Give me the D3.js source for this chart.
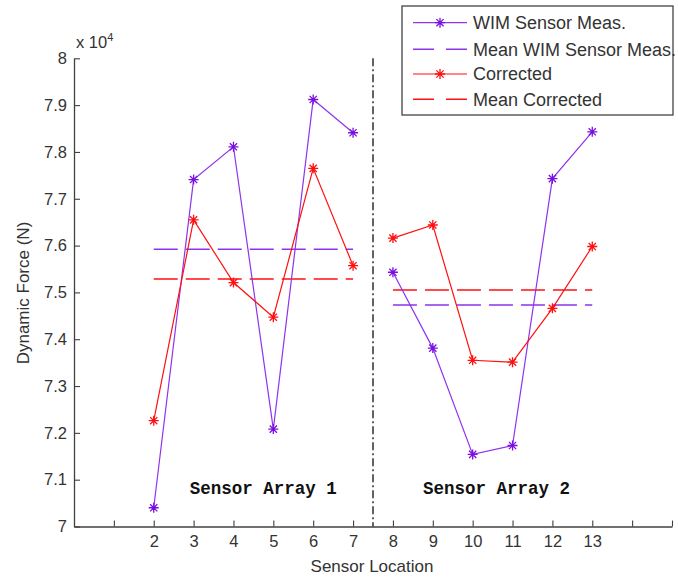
<!DOCTYPE html>
<html>
<head>
<meta charset="utf-8">
<script src="https://cdn.jsdelivr.net/npm/d3@7/dist/d3.min.js"></script>
<style>
  html, body { margin: 0; padding: 0; background: #ffffff; }
  svg { display: block; }
</style>
</head>
<body>
<script>
// ---------- data ----------
const sensorLocations = [2, 3, 4, 5, 6, 7, 8, 9, 10, 11, 12, 13];
const wimMeas   = [70400, 77410, 78110, 72080, 79120, 78410, 75430, 73810, 71540, 71730, 77430, 78430];
const corrected = [72260, 76550, 75210, 74470, 77650, 75570, 76160, 76440, 73550, 73510, 74660, 75980];
const array1Locs = [2, 3, 4, 5, 6, 7];
const array2Locs = [8, 9, 10, 11, 12, 13];
const xTicks = [1, 2, 3, 4, 5, 6, 7, 8, 9, 10, 11, 12, 13, 14, 15];
const xTickLabels = ["", "2", "3", "4", "5", "6", "7", "8", "9", "10", "11", "12", "13", "", ""];
const yTicks = [70000, 71000, 72000, 73000, 74000, 75000, 76000, 77000, 78000, 79000, 80000];
const yTickLabels = ["7", "7.1", "7.2", "7.3", "7.4", "7.5", "7.6", "7.7", "7.8", "7.9", "8"];
const legendLabels = ["WIM Sensor Meas.", "Mean WIM Sensor Meas.", "Corrected", "Mean Corrected"];
const annotations = [{text: "Sensor Array 1", x: 4.75, y: 70700}, {text: "Sensor Array 2", x: 10.6, y: 70700}];
const dividerX = 7.5;

// ---------- layout ----------
const W = 678, H = 578;
const purple = "#8f33ec", purpleMarker = "#7a10e0", red = "#ff1010";
const axisColor = "#404040", textColor = "#333333";
const font = "'Liberation Sans', Arial, sans-serif";

const x = d3.scaleLinear().domain([0, 15]).range([74, 672]);
const y = d3.scaleLinear().domain([70000, 80000]).range([526.5, 58.3]);

const svg = d3.select("body").append("svg").attr("width", W).attr("height", H);
svg.append("rect").attr("width", W).attr("height", H).attr("fill", "#ffffff");

const mean = arr => d3.mean(arr);
const idx = locs => locs.map(l => sensorLocations.indexOf(l));
function groupMean(values, locs) { return mean(idx(locs).map(i => values[i])); }

// ---------- axes ----------
const xAxis = d3.axisBottom(x).tickValues(xTicks)
  .tickFormat((d, i) => xTickLabels[i]).tickSizeInner(-6).tickSizeOuter(0).tickPadding(9);
const yAxis = d3.axisLeft(y).tickValues(yTicks)
  .tickFormat((d, i) => yTickLabels[i]).tickSizeInner(-6).tickSizeOuter(0).tickPadding(7);

const gx = svg.append("g").attr("transform", `translate(0,${y(70000)})`).call(xAxis);
const gy = svg.append("g").attr("transform", `translate(${x(0)},0)`).call(yAxis);
[gx, gy].forEach(g => {
  g.select(".domain").attr("stroke", axisColor).attr("stroke-width", 1.3);
  g.selectAll(".tick line").attr("stroke", axisColor).attr("stroke-width", 1.1);
  g.selectAll(".tick text").attr("fill", textColor).style("font-family", font).style("font-size", "16.5px");
});

// axis labels
svg.append("text").attr("x", 372).attr("y", 572).attr("text-anchor", "middle")
  .attr("fill", textColor).style("font-family", font).style("font-size", "17px").text("Sensor Location");
svg.append("text").attr("transform", "translate(29,293) rotate(-90)").attr("text-anchor", "middle")
  .attr("fill", textColor).style("font-family", font).style("font-size", "17px").text("Dynamic Force (N)");
const exp = svg.append("text").attr("x", 76).attr("y", 48).attr("fill", textColor)
  .style("font-family", font).style("font-size", "16.5px");
exp.append("tspan").text("x 10");
exp.append("tspan").attr("dy", -7).style("font-size", "11px").text("4");

// divider (dash-dot)
svg.append("line").attr("x1", x(dividerX)).attr("x2", x(dividerX))
  .attr("y1", y(80000)).attr("y2", y(70000))
  .attr("stroke", "#222").attr("stroke-width", 1.4).attr("stroke-dasharray", "8,3,2,3");

// annotations
svg.selectAll("text.anno").data(annotations).enter().append("text")
  .attr("class", "anno").attr("x", d => x(d.x)).attr("y", d => y(d.y))
  .attr("text-anchor", "middle").attr("fill", "#111")
  .style("font-family", "'Liberation Mono', 'Courier New', monospace")
  .style("font-weight", "bold").style("font-size", "17.5px")
  .text(d => d.text);

// ---------- mean lines ----------
function meanLine(values, locs, color) {
  const m = groupMean(values, locs);
  svg.append("line").attr("x1", x(d3.min(locs))).attr("x2", x(d3.max(locs)))
    .attr("y1", y(m)).attr("y2", y(m))
    .attr("stroke", color).attr("stroke-width", 1.5).attr("stroke-dasharray", "24,8");
}
meanLine(wimMeas, array1Locs, purple);
meanLine(corrected, array1Locs, red);
meanLine(wimMeas, array2Locs, purple);
meanLine(corrected, array2Locs, red);

// ---------- series ----------
function asterisk(g, cx, cy, color, r) {
  const d = r * 0.72;
  const p = `M${cx - r},${cy}L${cx + r},${cy}M${cx},${cy - r}L${cx},${cy + r}` +
            `M${cx - d},${cy - d}L${cx + d},${cy + d}M${cx - d},${cy + d}L${cx + d},${cy - d}`;
  g.append("path").attr("d", p).attr("stroke", color).attr("stroke-width", 1.3).attr("fill", "none");
}
function series(values, locs, lineColor, markerColor) {
  const pts = idx(locs).map(i => [sensorLocations[i], values[i]]);
  const line = d3.line().x(d => x(d[0])).y(d => y(d[1]));
  svg.append("path").attr("d", line(pts)).attr("fill", "none")
    .attr("stroke", lineColor).attr("stroke-width", 1.2);
  const g = svg.append("g");
  pts.forEach(d => asterisk(g, x(d[0]), y(d[1]), markerColor, 5));
}
series(wimMeas, array1Locs, purple, purpleMarker);
series(wimMeas, array2Locs, purple, purpleMarker);
series(corrected, array1Locs, red, red);
series(corrected, array2Locs, red, red);

// ---------- legend ----------
const lg = svg.append("g");
lg.append("rect").attr("x", 402).attr("y", 6).attr("width", 271).attr("height", 109)
  .attr("fill", "#ffffff").attr("stroke", "#444").attr("stroke-width", 1.3);
const legendStyles = [
  {color: purple, marker: purpleMarker, dash: null},
  {color: purple, marker: null, dash: "21,12"},
  {color: red, marker: red, dash: null},
  {color: red, marker: null, dash: "21,12"}
];
const rowY = [22.7, 49.3, 74, 99.3];
legendLabels.forEach((lab, i) => {
  const s = legendStyles[i];
  const ln = lg.append("line").attr("x1", 413).attr("x2", 467).attr("y1", rowY[i]).attr("y2", rowY[i])
    .attr("stroke", s.color).attr("stroke-width", s.dash ? 1.5 : 1.2);
  if (s.dash) ln.attr("stroke-dasharray", s.dash);
  if (s.marker) asterisk(lg, 440, rowY[i], s.marker, 5);
  lg.append("text").attr("x", 473).attr("y", rowY[i]).attr("dy", "0.36em")
    .attr("fill", textColor).style("font-family", font).style("font-size", "18px").text(lab);
});
</script>
</body>
</html>
